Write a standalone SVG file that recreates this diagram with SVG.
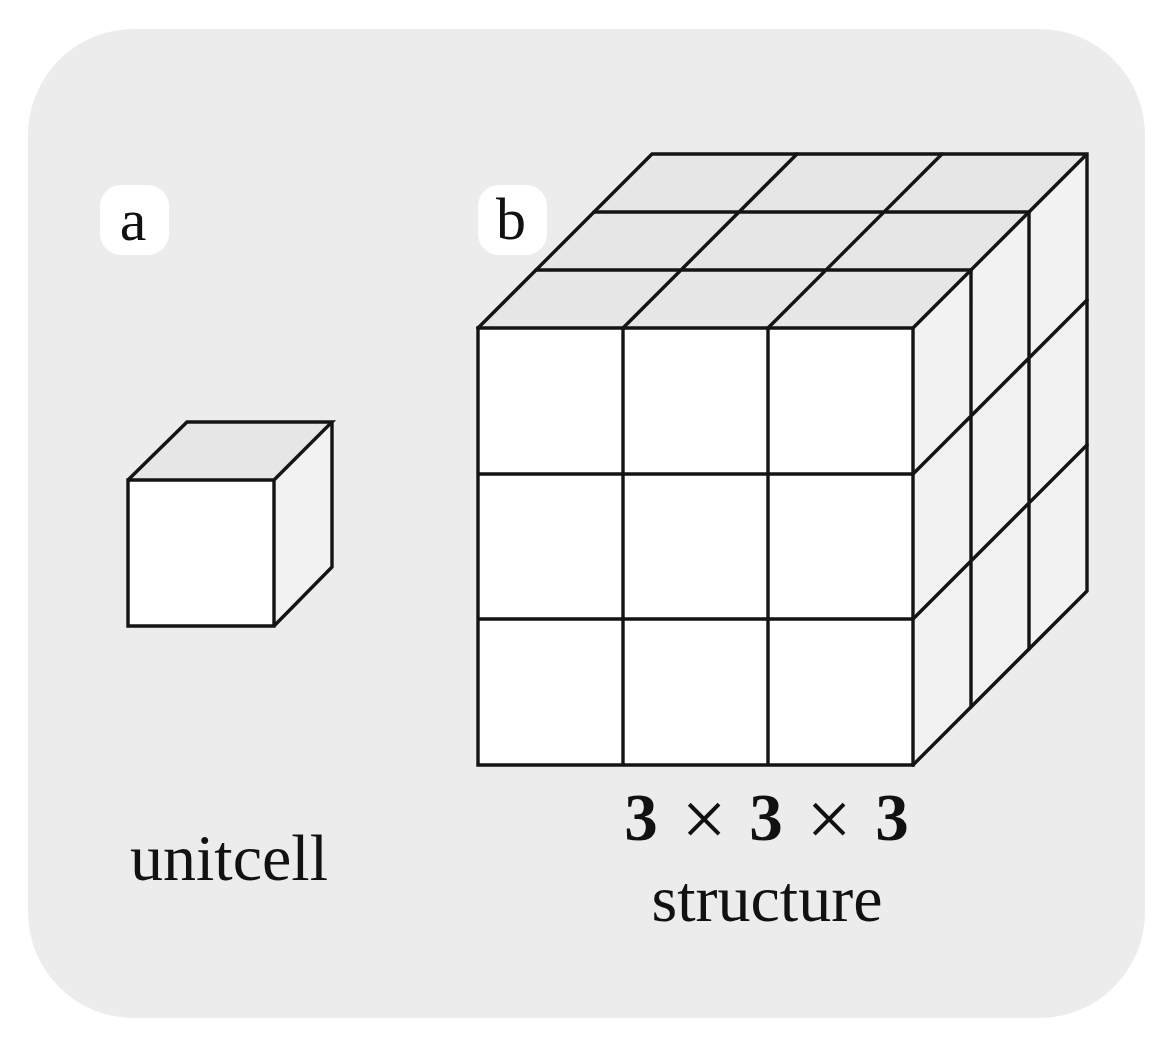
<svg xmlns="http://www.w3.org/2000/svg" width="1171" height="1048" viewBox="0 0 1171 1048">
<style>
.f{fill:#fff}.t{fill:#e6e6e6}.s{fill:#f2f2f2}
.e{fill:none;stroke:#141414;stroke-width:3.4;stroke-linejoin:miter;stroke-linecap:round}
.l{font-family:"Liberation Serif","Times New Roman",serif;fill:#111}
.lab{font-size:66px}.tag{font-size:60px}.num{font-size:67px;font-weight:bold}.tim{font-size:80px}
.b{fill:#fff}
</style>
<rect width="1171" height="1048" fill="#fff"/>
<rect id="panel" x="28" y="29" width="1117" height="989" rx="106" ry="106" fill="#ececec"/>
<g id="badge-a"><rect class="b" x="100" y="185" width="69" height="70" rx="21"/><text class="l tag" x="133" y="240" text-anchor="middle">a</text></g>
<g id="badge-b"><rect class="b" x="478" y="185" width="69" height="70" rx="21"/><text class="l tag" x="511" y="239" text-anchor="middle">b</text></g>
<g id="unitcell">
<polygon class="t" points="128,480 274,480 332,422 187,422"/>
<polygon class="s" points="274,480 332,422 332,567 274,626"/>
<rect class="f" x="128" y="480" width="146" height="146"/>
<path class="e" d="M128,480H274V626H128ZM128,480L187,422H332L274,480M332,422V567L274,626"/>
</g>
<g id="structure">
<polygon class="t" points="478,328 913,328 1087,154 652,154"/>
<polygon class="s" points="913,328 1087,154 1087,591 913,765"/>
<rect class="f" x="478" y="328" width="435" height="437"/>
<path class="e" d="M478,328H913V765H478ZM623,328V765M768,328V765M478,474H913M478,619H913"/>
<path class="e" d="M478,328L652,154H1087V591L913,765M913,328L1087,154"/>
<path class="e" d="M623,328L797,154M768,328L942,154M536,270H971M594,212H1029"/>
<path class="e" d="M971,270V707M1029,212V649M913,474L1087,300M913,619L1087,445"/>
</g>
<g id="labels">
<text class="l lab" x="229" y="880" text-anchor="middle">unitcell</text>
<text class="l num" x="641" y="840" text-anchor="middle">3</text>
<text class="l tim" x="704" y="846" text-anchor="middle">×</text>
<text class="l num" x="766" y="840" text-anchor="middle">3</text>
<text class="l tim" x="829" y="846" text-anchor="middle">×</text>
<text class="l num" x="892" y="840" text-anchor="middle">3</text>
<text class="l lab" x="767" y="921" text-anchor="middle">structure</text>
</g>
</svg>
